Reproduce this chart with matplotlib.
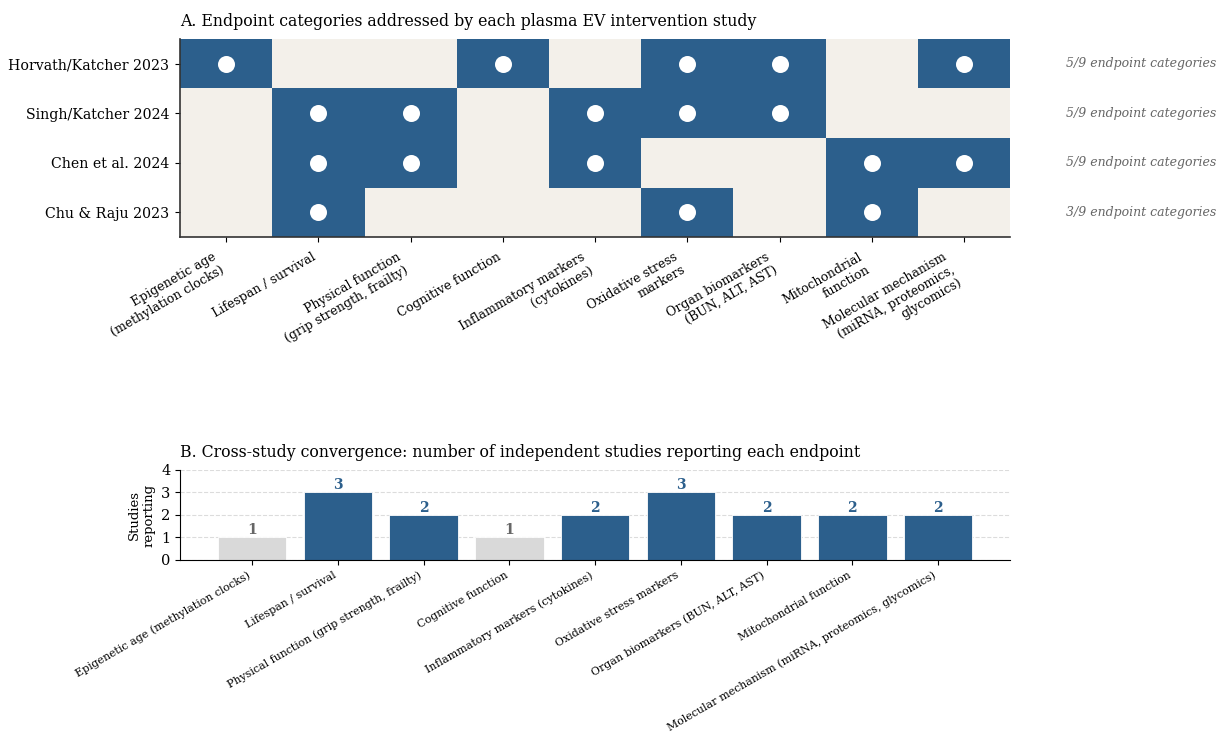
import matplotlib
matplotlib.use("Agg")
import matplotlib.pyplot as plt
import numpy as np
from matplotlib.colors import ListedColormap
from matplotlib.transforms import blended_transform_factory

plt.rcParams['font.family'] = ['DejaVu Serif']

studies = ["Horvath/Katcher 2023", "Singh/Katcher 2024", "Chen et al. 2024", "Chu & Raju 2023"]
endpoints_short = [
    "Epigenetic age\n(methylation clocks)",
    "Lifespan / survival",
    "Physical function\n(grip strength, frailty)",
    "Cognitive function",
    "Inflammatory markers\n(cytokines)",
    "Oxidative stress\nmarkers",
    "Organ biomarkers\n(BUN, ALT, AST)",
    "Mitochondrial\nfunction",
    "Molecular mechanism\n(miRNA, proteomics,\nglycomics)",
]
endpoints_long = [
    "Epigenetic age (methylation clocks)",
    "Lifespan / survival",
    "Physical function (grip strength, frailty)",
    "Cognitive function",
    "Inflammatory markers (cytokines)",
    "Oxidative stress markers",
    "Organ biomarkers (BUN, ALT, AST)",
    "Mitochondrial function",
    "Molecular mechanism (miRNA, proteomics, glycomics)",
]
# 1 = study reports this endpoint category
coverage = [
    [1, 0, 0, 1, 0, 1, 1, 0, 1],
    [0, 1, 1, 0, 1, 1, 1, 0, 0],
    [0, 1, 1, 0, 1, 0, 0, 1, 1],
    [0, 1, 0, 0, 0, 1, 0, 1, 0],
]

BLUE = "#2c5f8c"
BEIGE = "#f3f0ea"
GRAY = "#d9d9d9"

mat = np.array(coverage)
counts = mat.sum(axis=0)
n_cat = mat.shape[1]

fig = plt.figure(figsize=(12.17, 7.32), dpi=100)

# --- panel A: heatmap ---
ax1 = fig.add_axes([0.148, 0.676, 0.682, 0.271])
ax1.pcolormesh(np.arange(n_cat + 1) - 0.5, np.arange(len(studies) + 1) - 0.5, mat,
               cmap=ListedColormap([BEIGE, BLUE]), vmin=0, vmax=1)
rows, cols = np.nonzero(mat)
ax1.scatter(cols, rows, s=150, color="white", zorder=3, linewidths=0)
ax1.set_xlim(-0.5, n_cat - 0.5)
ax1.set_ylim(len(studies) - 0.5, -0.5)
ax1.set_yticks(range(len(studies)))
ax1.set_yticklabels(studies, fontsize=10.2)
ax1.tick_params(axis="y", pad=4.5)
ax1.tick_params(axis="x", pad=6)
ax1.set_xticks(range(n_cat))
ax1.set_xticklabels(endpoints_short, rotation=30, ha="right", fontsize=9)
for s in ["top", "right"]:
    ax1.spines[s].set_visible(False)
for s in ["left", "bottom"]:
    ax1.spines[s].set_color("#333333")
    ax1.spines[s].set_linewidth(1.2)
ax1.set_title("A. Endpoint categories addressed by each plasma EV intervention study",
              loc="left", fontsize=11.3, pad=9)

trans = blended_transform_factory(ax1.transAxes, ax1.transData)
for i, row in enumerate(mat):
    ax1.text(1.067, i, f"{row.sum()}/{n_cat} endpoint categories", transform=trans,
             ha="left", va="center", fontsize=9, style="italic", color="#666666")

# --- panel B: convergence bars ---
ax2 = fig.add_axes([0.148, 0.235, 0.682, 0.123])
bar_colors = [BLUE if c >= 2 else GRAY for c in counts]
ax2.bar(range(n_cat), counts, width=0.8, color=bar_colors, edgecolor="white", linewidth=0.6, zorder=2)
for x, c in enumerate(counts):
    ax2.text(x, c + 0.02, str(c), ha="center", va="bottom", fontsize=10, fontweight="bold",
             color=BLUE if c >= 2 else "#666666")
ax2.set_ylim(0, 4)
ax2.set_yticks(range(5))
ax2.tick_params(axis="y", labelsize=10.5)
ax2.set_ylabel("Studies\nreporting", fontsize=9.5)
ax2.set_xticks(range(n_cat))
ax2.set_xticklabels(endpoints_long, rotation=30, ha="right", fontsize=7.9)
ax2.yaxis.grid(True, linestyle="--", color="#dcdcdc", linewidth=0.8, zorder=0)
ax2.set_axisbelow(True)
for s in ["top", "right"]:
    ax2.spines[s].set_visible(False)
ax2.set_title("B. Cross-study convergence: number of independent studies reporting each endpoint",
              loc="left", fontsize=11.3, pad=9)

fig.savefig("out.png", dpi=100)
